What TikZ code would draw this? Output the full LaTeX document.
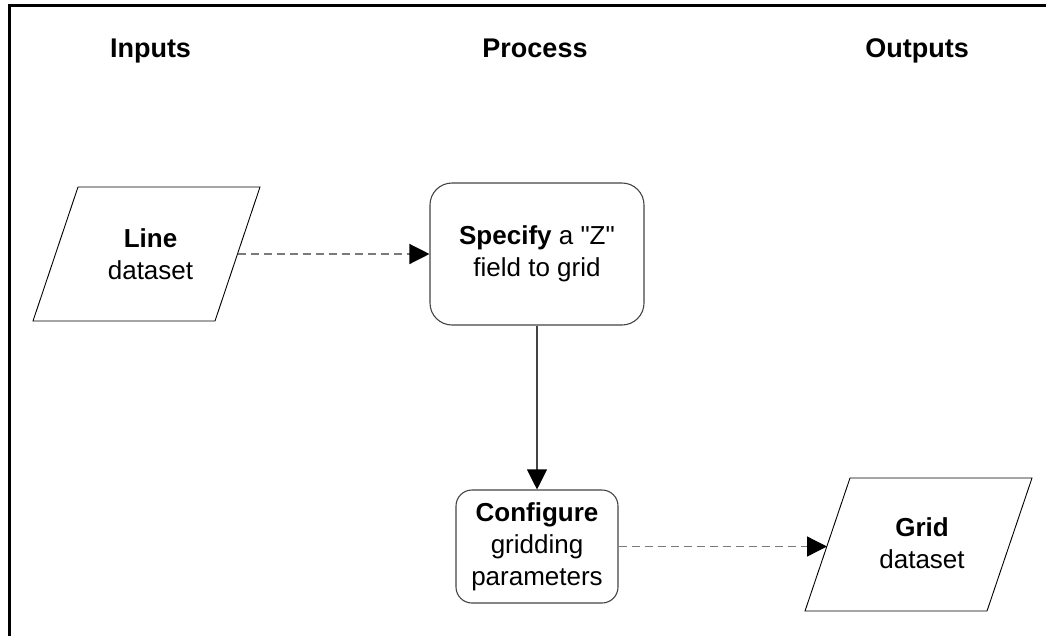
\documentclass[tikz,border=0pt]{standalone}
\usepackage{fontspec}
\setmainfont{Liberation Sans}[Ligatures=TeXOff]
\usetikzlibrary{arrows.meta}
\definecolor{dashgray}{HTML}{7A7A7A}
\definecolor{boxgray}{HTML}{444444}
\begin{document}
\begin{tikzpicture}[x=1pt,y=-1pt,
  hdr/.style={font=\fontsize{27}{32}\selectfont\bfseries, anchor=base, inner sep=0pt},
  txt/.style={font=\fontsize{26}{32}\selectfont, align=center, inner sep=0pt},
  procbox/.style={draw=boxgray, line width=1.1pt, rounded corners=#1, inner sep=0pt, align=center,
                  font=\fontsize{26}{32}\selectfont},
  para/.style={draw=black, line width=0.9pt},
  dasharrow/.style={draw=dashgray, line width=1.3pt, dash pattern=on 8pt off 5pt,
                    -{Triangle[length=20pt,width=20pt,fill=black,color=black]}},
  solidarrow/.style={draw=boxgray, line width=1.1pt,
                    -{Triangle[length=20pt,width=20pt,fill=black,color=black]}}
]
\useasboundingbox (0,0) rectangle (1052,635);
% frame
\draw[line width=3pt] (9,636) -- (9,5.3) -- (1046,5.3);
% headers
\node[hdr] (hin) at (150.5,57.3) {Inputs};
\node[hdr] (hproc) at (535,57.3) {Process};
\node[hdr] (hout) at (917,57.3) {Outputs};
% Line dataset
\draw[para] (78,187) -- (260,187) -- (215,321) -- (33,321) -- cycle;
\node[txt] (line) at (150.5,254.7) {\textbf{Line}\\dataset};
\coordinate (lineE) at (237.5,254);
% Specify
\node[procbox=22pt, minimum width=214pt, minimum height=142pt] (spec) at (537,254)
  {\textbf{Specify} a "Z"\\field to grid};
% Configure
\node[procbox=16pt, minimum width=162pt, minimum height=113pt] (conf) at (537,546.5)
  {\textbf{Configure}\\gridding\\parameters};
% Grid dataset
\draw[para] (850,478) -- (1032,478) -- (987,611) -- (805,611) -- cycle;
\node[txt] (grid) at (922,543.3) {\textbf{Grid}\\dataset};
\coordinate (gridW) at (827,546.5);
% connectors
\draw[dasharrow] (lineE) -- (spec.west);
\draw[solidarrow] (spec.south) -- (conf.north);
\draw[dasharrow] (conf.east) -- (gridW);
\end{tikzpicture}
\end{document}
